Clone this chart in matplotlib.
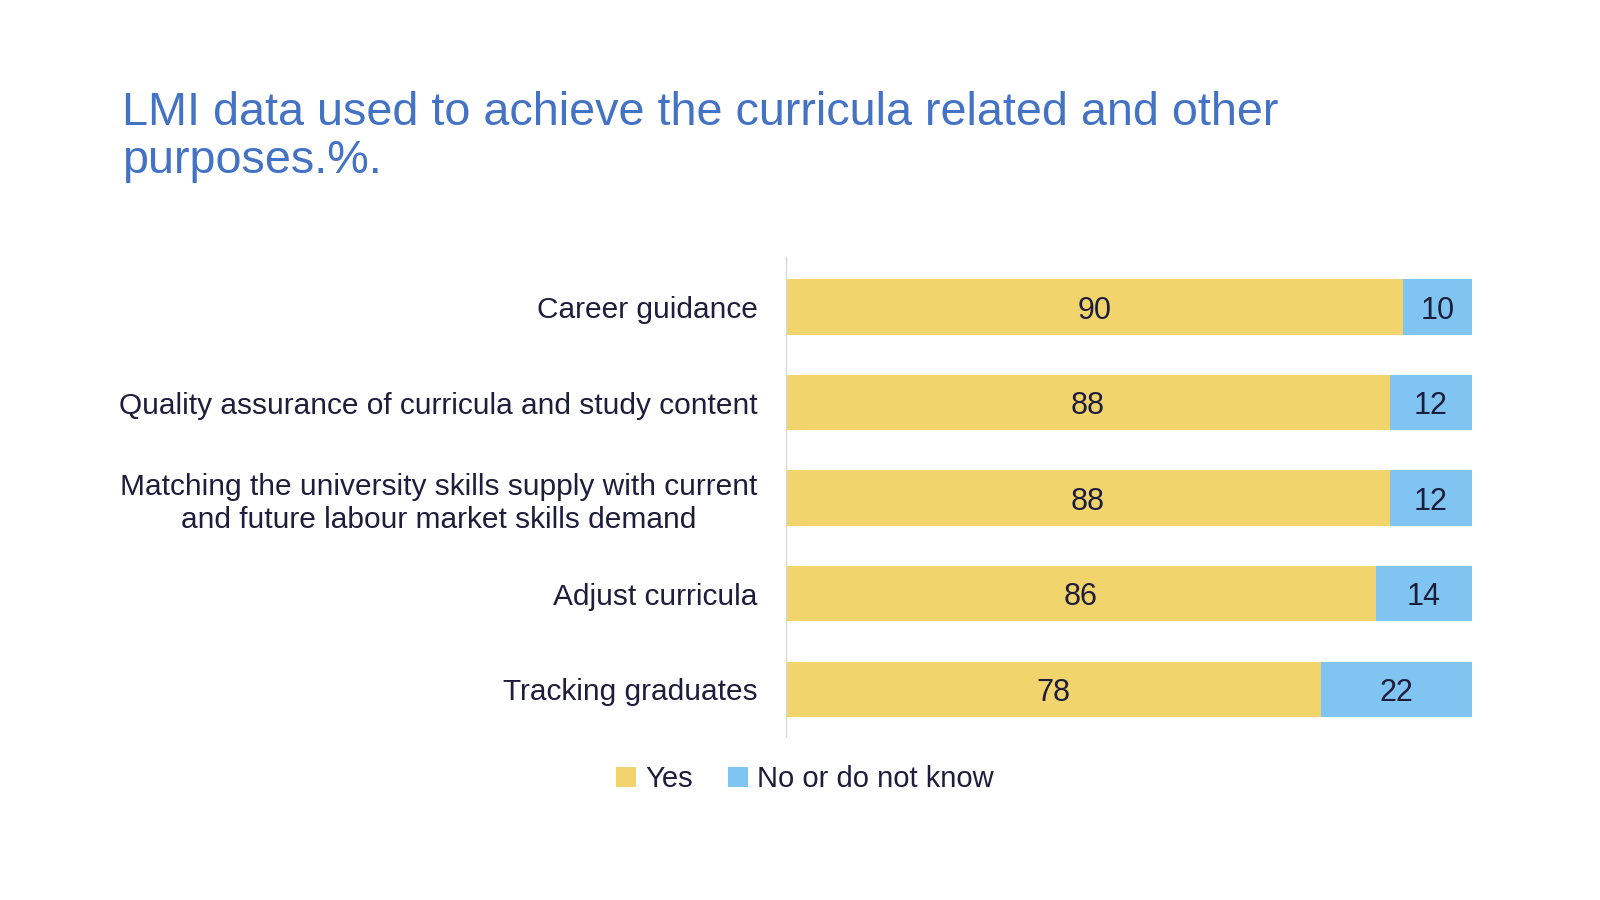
import matplotlib.pyplot as plt
import numpy as np
from matplotlib import font_manager

categories = [
    "Career guidance",
    "Quality assurance of curricula and study content",
    "Matching the university skills supply with current\nand future labour market skills demand",
    "Adjust curricula",
    "Tracking graduates",
]
yes_values = [90, 88, 88, 86, 78]
no_values = [10, 12, 12, 14, 22]
series_names = ["Yes", "No or do not know"]

YELLOW = "#F2D46C"
BLUE = "#80C5F1"
TEXT = "#1E1D3C"
TITLE = "#4472C4"

names = {f.name for f in font_manager.fontManager.ttflist}
family = "Liberation Sans Narrow" if "Liberation Sans Narrow" in names else "Liberation Sans"
plt.rcParams["font.family"] = [family, "DejaVu Sans"]

fig = plt.figure(figsize=(16, 9), dpi=100)
ax = fig.add_axes([0.491, 0.181, 0.429, 0.533])

y = np.arange(len(categories))
bars_yes = ax.barh(y, yes_values, height=0.58, color=YELLOW, label=series_names[0])
bars_no = ax.barh(y, no_values, left=yes_values, height=0.58, color=BLUE, label=series_names[1])

# value labels centred in each segment
for bars in (bars_yes, bars_no):
    for b in bars:
        ax.text(b.get_x() + b.get_width() / 2, b.get_y() + b.get_height() / 2,
                str(int(b.get_width())), ha="center", va="center_baseline",
                fontsize=22, color=TEXT)

ax.set_xlim(0, 100)
ax.set_ylim(4.5, -0.52)
ax.set_yticks(y)
ax.set_yticklabels(categories, fontsize=21.5, color=TEXT, ha="right")
for lbl in ax.get_yticklabels():
    lbl.set_multialignment("center")
ax.tick_params(axis="y", length=0, pad=20)
ax.set_xticks([])
for side in ("top", "right", "bottom"):
    ax.spines[side].set_visible(False)
ax.spines["left"].set_color("#D9D9D9")
ax.spines["left"].set_linewidth(1)

fig.text(0.076, 0.848, "LMI data used to achieve the curricula related and other\npurposes.%.",
         fontsize=33.7, color=TITLE, ha="left", va="center", linespacing=1.13)

fig.legend(loc="center", bbox_to_anchor=(0.503, 0.134), ncol=2, frameon=False,
           fontsize=21, labelcolor=TEXT, handlelength=0.7, handleheight=0.7,
           handletextpad=0.3, columnspacing=1.2)

fig.savefig("out.png", dpi=100, facecolor="white")
